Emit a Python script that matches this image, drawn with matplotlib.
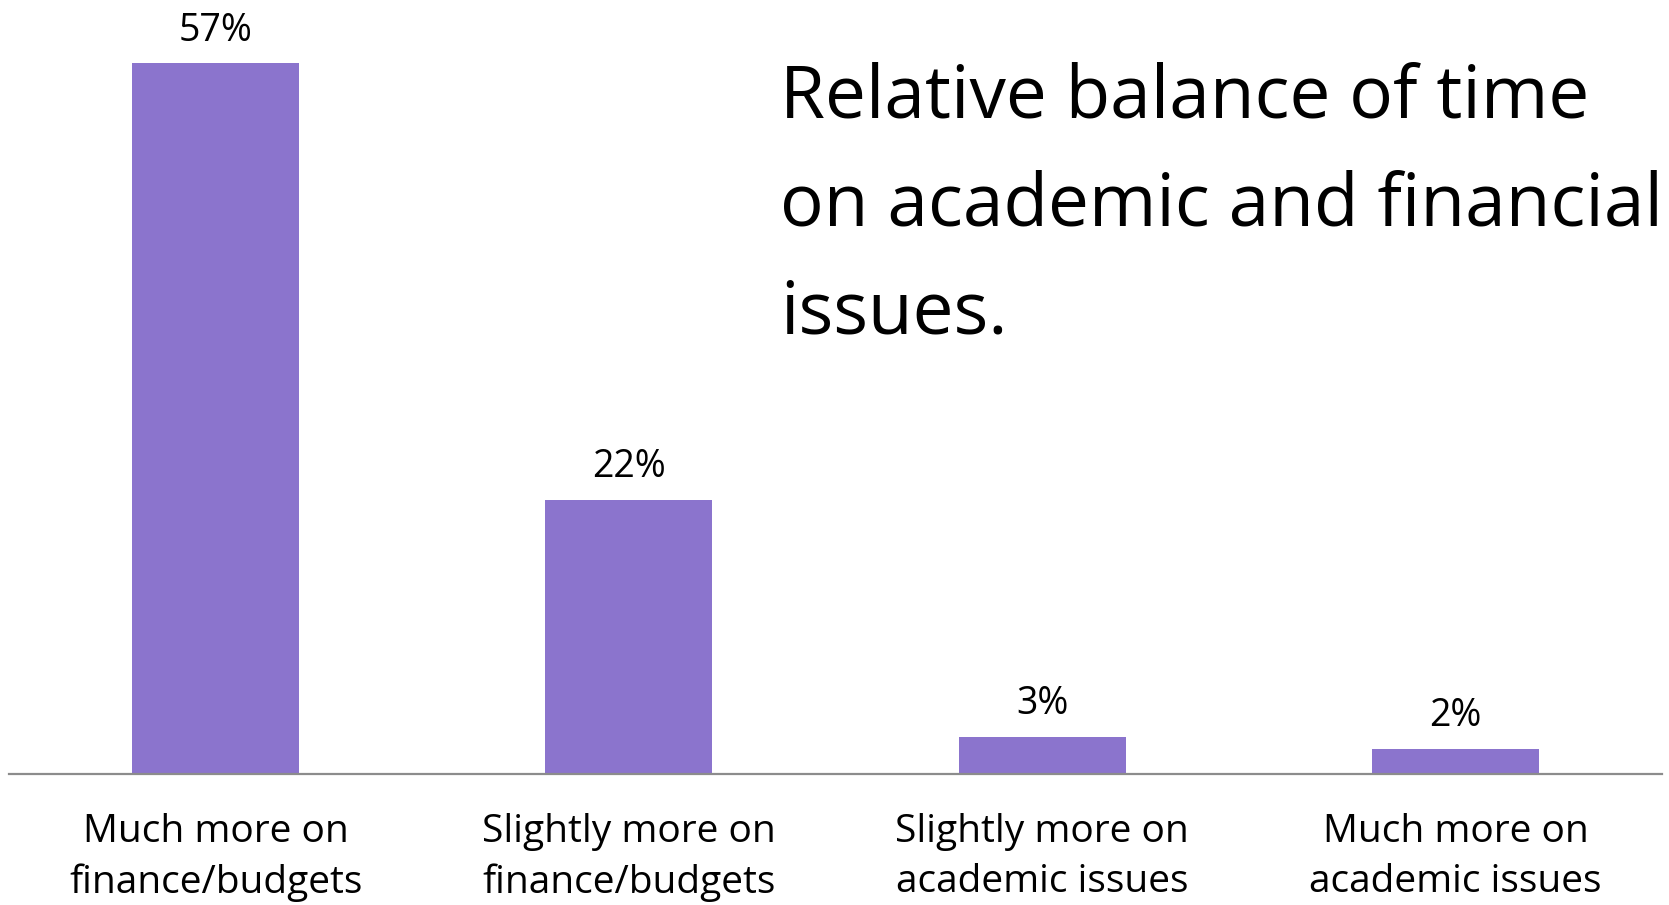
import matplotlib
matplotlib.use("Agg")
import matplotlib.pyplot as plt

# data
categories = ["Much more on\nfinance/budgets",
              "Slightly more on\nfinance/budgets",
              "Slightly more on\nacademic issues",
              "Much more on\nacademic issues"]
shares = [57, 22, 3, 2]
value_labels = ["57%", "22%", "3%", "2%"]
title = "Relative balance of time\non academic and financial\nissues."

plt.rcParams['font.family'] = ['Open Sans', 'DejaVu Sans']

fig = plt.figure(figsize=(16.69, 9.05), dpi=100)
ax = fig.add_axes([9 / 1669, 131 / 905, 1653 / 1669, 748 / 905])

x = list(range(len(shares)))
bars = ax.bar(x, shares, width=0.404, color='#8B74CD')

# value labels above each bar
for rect, lab in zip(bars, value_labels):
    ax.annotate(lab, (rect.get_x() + rect.get_width() / 2, rect.get_height()),
                xytext=(0, 10), textcoords='offset points',
                ha='center', va='bottom', fontsize=27, color='black')

ax.set_xlim(-0.5, 3.5)
ax.set_ylim(0, 60)

for side in ['top', 'right', 'left']:
    ax.spines[side].set_visible(False)
ax.spines['bottom'].set_color('#8c8c8c')
ax.spines['bottom'].set_linewidth(1.6)

ax.set_yticks([])
ax.set_xticks(x)
ax.set_xticklabels(categories, fontsize=28, linespacing=1.42)
ax.tick_params(axis='x', length=0, pad=28)

fig.text(780 / 1669, 1 - 62 / 905, title, fontsize=52.5, ha='left', va='top',
         linespacing=1.6, color='black')

fig.savefig("out.png", dpi=100, facecolor='white')
